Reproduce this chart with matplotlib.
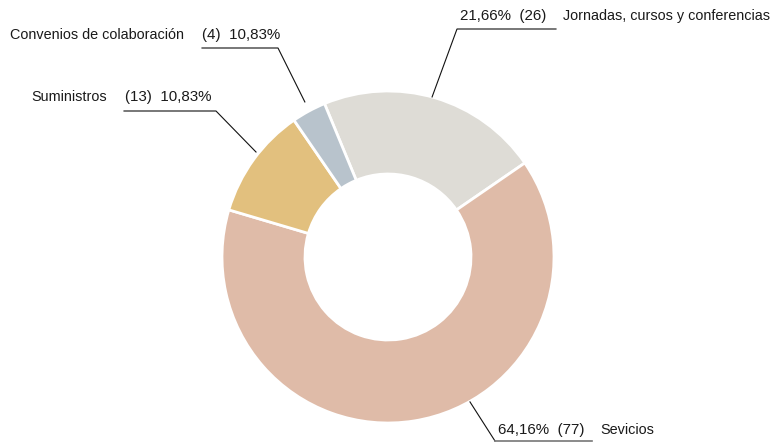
import numpy as np
import matplotlib
matplotlib.use("Agg")
import matplotlib.pyplot as plt

plt.rcParams['font.family'] = ['Liberation Sans', 'DejaVu Sans']

# data
categories = ["Jornadas, cursos y conferencias", "Sevicios", "Suministros", "Convenios de colaboración"]
values = [26, 77, 13, 4]
pct_labels = ["21,66%", "64,16%", "10,83%", "10,83%"]
colors = ["#dedcd6", "#dfbba8", "#e2c07e", "#b8c3cc"]

W, H = 778, 445
fig = plt.figure(figsize=(W / 100, H / 100), dpi=100)
ax = fig.add_axes([0, 0, 1, 1])

cx, cy, R = 388, H - 257, 166
ax.pie(values, colors=colors, startangle=112.5, counterclock=False,
       center=(cx, cy), radius=R,
       wedgeprops=dict(width=83, edgecolor="white", linewidth=2))
ax.set_xlim(0, W)
ax.set_ylim(0, H)
ax.set_aspect("equal")
ax.axis("off")

fs = 10.4      # names
fs_num = 10.9  # counts / percentages
tc = "#1a1a1a"

def py(y):
    return H - y

def anchor(theta, r):
    t = np.deg2rad(theta)
    return cx + r * R * np.sin(t), cy + r * R * np.cos(t)

# Jornadas: numbers first then name
ax.text(460, py(16), "%s  (%d)" % (pct_labels[0], values[0]), fontsize=fs_num, color=tc, va="center")
ax.text(563, py(16), categories[0], fontsize=fs, color=tc, va="center")
ax_, ay_ = anchor(15.4, 1.0)
ax.plot([556, 457, ax_], [py(29), py(29), ay_], color="#111111", lw=0.8)

# Sevicios
ax.text(498, py(430), "%s  (%d)" % (pct_labels[1], values[1]), fontsize=fs_num, color=tc, va="center")
ax.text(600, py(430), categories[1], fontsize=fs, color=tc, va="center")
ax_, ay_ = anchor(150.5, 1.003)
ax.plot([ax_, 495], [ay_, py(441)], color="#111111", lw=0.8)
ax.plot([495, 592], [py(441), py(441)], color="#777777", lw=1.2)

# Suministros
ax.text(31, py(97), categories[2], fontsize=fs, color=tc, va="center")
ax.text(125, py(97), "(%d)  %s" % (values[2], pct_labels[2]), fontsize=fs_num, color=tc, va="center")
ax_, ay_ = anchor(-51.5, 1.016)
ax.plot([124, 216, ax_], [py(111), py(111), ay_], color="#111111", lw=0.8)

# Convenios
ax.text(10, py(35), categories[3], fontsize=fs, color=tc, va="center")
ax.text(202, py(35), "(%d)  %s" % (values[3], pct_labels[3]), fontsize=fs_num, color=tc, va="center")
ax_, ay_ = anchor(-28.2, 1.06)
ax.plot([202, 278, ax_], [py(48), py(48), ay_], color="#111111", lw=0.8)

fig.savefig("out.png", dpi=100, facecolor="white")
